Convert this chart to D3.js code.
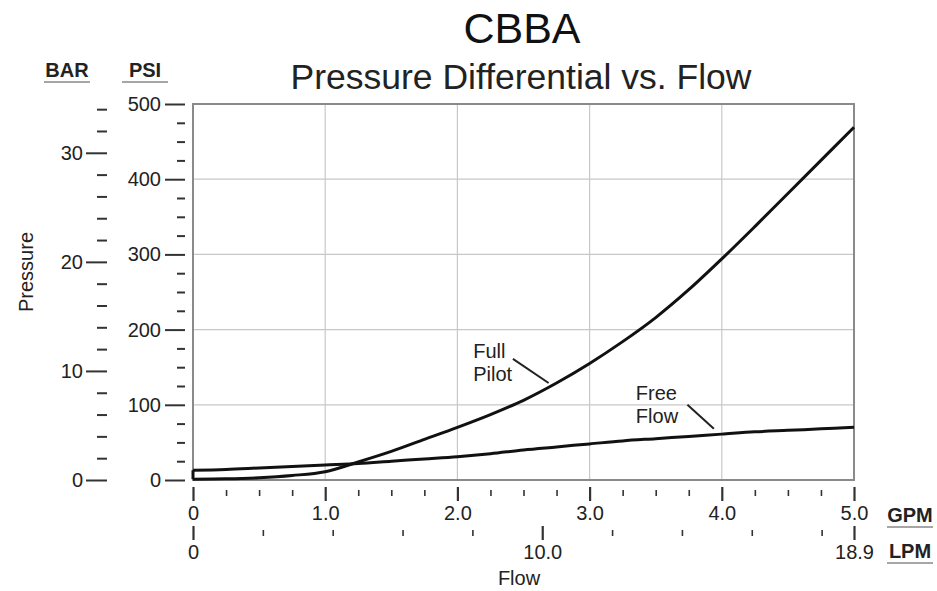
<!DOCTYPE html>
<html>
<head>
<meta charset="utf-8">
<script src="https://cdn.jsdelivr.net/npm/d3@7"></script>
<style>
  body { margin: 0; background: #fff; }
  svg { display: block; font-family: "Liberation Sans", Arial, sans-serif; }
  .axis path { display: none; }
  .axis text { fill: #222; font-size: 20px; }
  .axis line { stroke: #333; }
</style>
</head>
<body>
<div id="chart"></div>
<script>
// Pressure differential vs flow, CBBA cartridge

// flow in GPM and pressure in PSI
var flowGpm       = [0, 0.25, 0.5, 0.75, 1.0, 1.25, 1.5, 1.75, 2.0, 2.25, 2.5, 2.75, 3.0, 3.25, 3.5, 3.75, 4.0, 4.25, 4.5, 4.75, 5.0];
var fullPilotPsi  = [1, 1.5, 3, 6, 11, 24, 38, 54, 70, 87, 106, 129, 155, 184, 216, 253, 294, 337, 381, 425, 469];
var freeFlowPsi   = [13, 14, 16, 18, 20, 22, 25, 28, 31, 35, 40, 44, 48, 52, 55, 58, 61, 64, 66, 68, 70];

var gpmTicks   = [0, 1, 2, 3, 4, 5];
var psiTicks   = [0, 100, 200, 300, 400, 500];
var barTicks   = [0, 10, 20, 30];
var lpmTicks   = [0, 10, 18.927];

// annotation labels in data units (gpm, psi)
var labels = [
	{ lines: ["Full", "Pilot"], x: 2.12, y: 162, lead: [[2.42, 161], [2.69, 129]] },
	{ lines: ["Free", "Flow"], x: 3.35, y: 106, lead: [[3.74, 100], [3.94, 68]] }
];

var PSI_PER_BAR = 14.5038, LPM_PER_GPM = 3.78541;

var width = 937, height = 591;
var plot = { left: 193, right: 854, top: 104, bottom: 480 };

var svg = d3.select("#chart").append("svg")
	.attr("width", width)
	.attr("height", height);

var x = d3.scaleLinear().domain([0, 5]).range([plot.left, plot.right]);
var y = d3.scaleLinear().domain([0, 500]).range([plot.bottom, plot.top]);
var yBar = d3.scaleLinear().domain([0, 500 / PSI_PER_BAR]).range([plot.bottom, plot.top]);
var xLpm = d3.scaleLinear().domain([0, 5 * LPM_PER_GPM]).range([plot.left, plot.right]);

// titles
svg.append("text")
	.attr("x", 522).attr("y", 43)
	.attr("text-anchor", "middle")
	.style("font-size", "43px")
	.attr("fill", "#111")
	.text("CBBA");
svg.append("text")
	.attr("x", 521).attr("y", 89)
	.attr("text-anchor", "middle")
	.style("font-size", "35.5px")
	.attr("fill", "#222")
	.text("Pressure Differential vs. Flow");

// grid
svg.append("g").selectAll("line")
	.data(gpmTicks.slice(1, -1))
	.enter().append("line")
	  .attr("x1", function(d) { return x(d); })
	  .attr("x2", function(d) { return x(d); })
	  .attr("y1", plot.top).attr("y2", plot.bottom)
	  .attr("stroke", "#c8c8c8").attr("stroke-width", 1.2);
svg.append("g").selectAll("line")
	.data(psiTicks.slice(1, -1))
	.enter().append("line")
	  .attr("y1", function(d) { return y(d); })
	  .attr("y2", function(d) { return y(d); })
	  .attr("x1", plot.left).attr("x2", plot.right)
	  .attr("stroke", "#c8c8c8").attr("stroke-width", 1.2);

svg.append("rect")
	.attr("x", plot.left).attr("y", plot.top)
	.attr("width", plot.right - plot.left)
	.attr("height", plot.bottom - plot.top)
	.attr("fill", "none")
	.attr("stroke", "#8a8a8a")
	.attr("stroke-width", 2);

// PSI axis
svg.append("g").attr("class", "axis")
	.attr("transform", "translate(185,0)")
	.call(d3.axisLeft(y).tickValues(d3.range(0, 501, 25).filter(function(d) { return d % 100; }))
		.tickSize(8).tickFormat(""))
	.selectAll("line").attr("stroke-width", 2);
svg.append("g").attr("class", "axis")
	.attr("transform", "translate(185,0)")
	.call(d3.axisLeft(y).tickValues(psiTicks).tickSize(20).tickPadding(4))
	.selectAll("line").attr("stroke-width", 2);

// BAR axis
svg.append("g").attr("class", "axis")
	.attr("transform", "translate(107,0)")
	.call(d3.axisLeft(yBar).tickValues(d3.range(2, 35, 2).filter(function(d) { return d % 10; }))
		.tickSize(10).tickFormat(""))
	.selectAll("line").attr("stroke-width", 2);
svg.append("g").attr("class", "axis")
	.attr("transform", "translate(107,0)")
	.call(d3.axisLeft(yBar).tickValues(barTicks).tickSize(21).tickPadding(3))
	.selectAll("line").attr("stroke-width", 2);

// GPM axis
function fmt1(d) { return d === 0 ? "0" : d3.format(".1f")(d); }
svg.append("g").attr("class", "axis")
	.attr("transform", "translate(0,490)")
	.call(d3.axisBottom(x).tickValues(d3.range(0, 5.01, 0.25).filter(function(d) { return d % 1; }))
		.tickSize(6).tickFormat(""))
	.selectAll("line").attr("stroke-width", 1.6);
svg.append("g").attr("class", "axis")
	.attr("transform", "translate(0,487)")
	.call(d3.axisBottom(x).tickValues(gpmTicks).tickSize(14).tickPadding(5).tickFormat(fmt1))
	.selectAll("line").attr("stroke-width", 2.2);

// LPM axis
svg.append("g").attr("class", "axis")
	.attr("transform", "translate(0,530)")
	.call(d3.axisBottom(xLpm).tickValues(d3.range(2, 19, 2).filter(function(d) { return d !== 10; }))
		.tickSize(6).tickFormat(""))
	.selectAll("line").attr("stroke-width", 1.6);
svg.append("g").attr("class", "axis")
	.attr("transform", "translate(0,526)")
	.call(d3.axisBottom(xLpm).tickValues(lpmTicks).tickSize(14).tickPadding(5).tickFormat(fmt1))
	.selectAll("line").attr("stroke-width", 2.2);

// unit labels
var units = [
	{ t: "BAR", x: 67, y: 77 },
	{ t: "PSI", x: 145, y: 77 },
	{ t: "GPM", x: 910, y: 522 },
	{ t: "LPM", x: 910, y: 558 }
];
var u = svg.append("g").selectAll("g").data(units).enter().append("g");
u.append("text")
	.attr("x", function(d) { return d.x; })
	.attr("y", function(d) { return d.y; })
	.attr("text-anchor", "middle")
	.style("font-size", "20px").style("font-weight", "bold")
	.attr("fill", "#222")
	.text(function(d) { return d.t; });
u.append("line")
	.attr("x1", function(d) { return d.x - 23; })
	.attr("x2", function(d) { return d.x + 23; })
	.attr("y1", function(d) { return d.y + 5; })
	.attr("y2", function(d) { return d.y + 5; })
	.attr("stroke", "#888").attr("stroke-width", 1.6);

// axis titles
svg.append("text")
	.attr("transform", "translate(33,272) rotate(-90)")
	.attr("text-anchor", "middle")
	.style("font-size", "20px")
	.attr("fill", "#222")
	.text("Pressure");
svg.append("text")
	.attr("x", 519).attr("y", 585)
	.attr("text-anchor", "middle")
	.style("font-size", "20px")
	.attr("fill", "#222")
	.text("Flow");

// curves
var line = d3.line().curve(d3.curveCatmullRom.alpha(0.5))
	.x(function(d) { return x(d[0]); })
	.y(function(d) { return y(d[1]); });

svg.append("path")
	.datum(d3.zip(flowGpm, fullPilotPsi))
	.attr("d", line)
	.attr("fill", "none").attr("stroke", "#111").attr("stroke-width", 3);
svg.append("path")
	.datum(d3.zip(flowGpm, freeFlowPsi))
	.attr("d", line)
	.attr("fill", "none").attr("stroke", "#111").attr("stroke-width", 3);
// short closing stroke at zero flow
svg.append("line")
	.attr("x1", x(0)).attr("x2", x(0))
	.attr("y1", y(freeFlowPsi[0])).attr("y2", y(fullPilotPsi[0]))
	.attr("stroke", "#111").attr("stroke-width", 3);

// curve labels with leader lines
var lab = svg.append("g").selectAll("g").data(labels).enter().append("g");
lab.each(function(d) {
	var g = d3.select(this);
	d.lines.forEach(function(t, i) {
		g.append("text")
			.attr("x", x(d.x)).attr("y", y(d.y) + i * 23)
			.style("font-size", "20px")
			.attr("fill", "#222")
			.text(t);
	});
	g.append("line")
		.attr("x1", x(d.lead[0][0])).attr("y1", y(d.lead[0][1]))
		.attr("x2", x(d.lead[1][0])).attr("y2", y(d.lead[1][1]))
		.attr("stroke", "#222").attr("stroke-width", 2);
});
</script>
</body>
</html>
